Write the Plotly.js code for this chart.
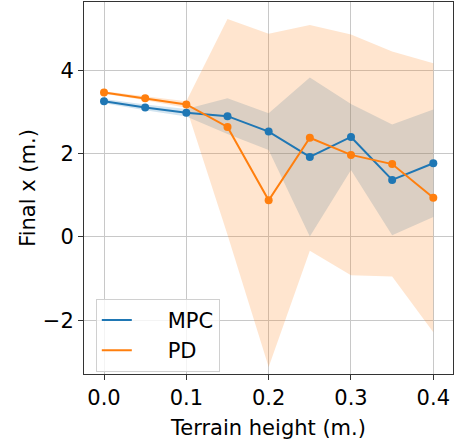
<!DOCTYPE html>
<html>
<head>
<meta charset="utf-8">
<script src="https://cdn.plot.ly/plotly-3.0.1.min.js"></script>
<style>html,body{margin:0;padding:0;background:#fff;}#chart{width:456px;height:447px;}</style>
</head>
<body>
<div id="chart"></div>
<script>
const terrainHeight = [0.0, 0.05, 0.1, 0.15, 0.2, 0.25, 0.3, 0.35, 0.4];
const mpcMean = [3.26, 3.11, 2.98, 2.90, 2.53, 1.92, 2.40, 1.37, 1.77];
const mpcStd  = [0.05, 0.07, 0.09, 0.43, 0.44, 1.91, 0.79, 1.33, 1.29];
const pdMean  = [3.47, 3.33, 3.18, 2.64, 0.88, 2.38, 1.97, 1.75, 0.94];
const pdStd   = [0.03, 0.05, 0.08, 2.59, 4.00, 2.71, 2.89, 2.70, 3.23];
const seriesNames = ['MPC', 'PD'];
const xTicks = [0.0, 0.1, 0.2, 0.3, 0.4];
const xTickText = ['0.0', '0.1', '0.2', '0.3', '0.4'];
const yTicks = [-2, 0, 2, 4];

const blue = '#1f77b4', orange = '#ff7f0e';
const lo = (m, s) => m.map((v, i) => v - s[i]);
const hi = (m, s) => m.map((v, i) => v + s[i]);
const pad = '\u00a0\u00a0\u00a0\u00a0\u2009';

const traces = [
  {x: terrainHeight, y: lo(mpcMean, mpcStd), mode: 'lines', line: {width: 0}, hoverinfo: 'skip', showlegend: false},
  {x: terrainHeight, y: hi(mpcMean, mpcStd), mode: 'lines', line: {width: 0}, fill: 'tonexty', fillcolor: 'rgba(31,119,180,0.2)', hoverinfo: 'skip', showlegend: false},
  {x: terrainHeight, y: lo(pdMean, pdStd), mode: 'lines', line: {width: 0}, hoverinfo: 'skip', showlegend: false},
  {x: terrainHeight, y: hi(pdMean, pdStd), mode: 'lines', line: {width: 0}, fill: 'tonexty', fillcolor: 'rgba(255,127,14,0.2)', hoverinfo: 'skip', showlegend: false},
  {x: terrainHeight, y: mpcMean, mode: 'lines+markers', line: {color: blue, width: 2}, marker: {color: blue, size: 8}, showlegend: false},
  {x: terrainHeight, y: pdMean, mode: 'lines+markers', line: {color: orange, width: 2}, marker: {color: orange, size: 8}, showlegend: false},
  {x: [null], y: [null], mode: 'lines', name: pad + seriesNames[0], line: {color: blue, width: 2}},
  {x: [null], y: [null], mode: 'lines', name: pad + seriesNames[1], line: {color: orange, width: 2}}
];

const font = {family: 'DejaVu Sans, sans-serif', size: 21, color: '#000'};
const layout = {
  width: 456, height: 447,
  margin: {l: 84, r: 3, t: 2, b: 73},
  paper_bgcolor: '#fff', plot_bgcolor: '#fff',
  font: font,
  xaxis: {
    range: [-0.0243, 0.4239],
    tickvals: xTicks, ticktext: xTickText,
    showgrid: true, gridcolor: '#c8c8c8', gridwidth: 1,
    zeroline: false,
    showline: true, linecolor: '#333', linewidth: 1, mirror: true,
    ticks: 'outside', ticklen: 5, tickcolor: '#333',
    tickfont: font,
    title: {text: 'Terrain height (m.)', font: font, standoff: 11}
  },
  yaxis: {
    range: [-3.29, 5.64],
    tickvals: yTicks,
    showgrid: true, gridcolor: '#c8c8c8', gridwidth: 1,
    zeroline: false,
    showline: true, linecolor: '#333', linewidth: 1, mirror: true,
    ticks: 'outside', ticklen: 5, tickcolor: '#333',
    tickfont: font,
    title: {text: 'Final x (m.)', font: font, standoff: 1}
  },
  legend: {
    x: 0.032, y: 0.006, xanchor: 'left', yanchor: 'bottom',
    traceorder: 'normal',
    bgcolor: 'rgba(255,255,255,0.8)', bordercolor: '#d0d0d0', borderwidth: 1,
    font: font, itemwidth: 30, tracegroupgap: 0
  }
};

Plotly.newPlot('chart', traces, layout, {displayModeBar: false, staticPlot: true});
</script>
</body>
</html>
